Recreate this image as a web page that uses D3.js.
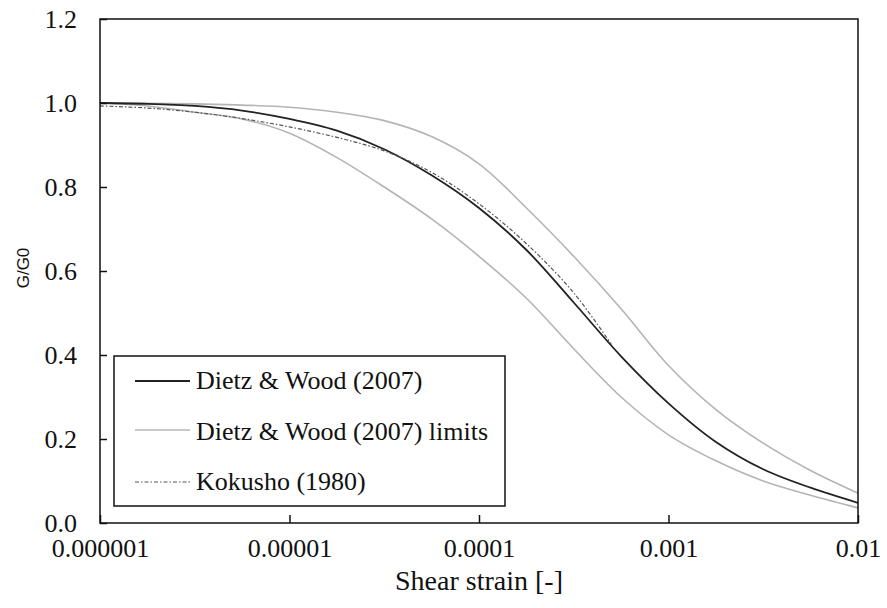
<!DOCTYPE html>
<html>
<head>
<meta charset="utf-8">
<script src="https://cdn.jsdelivr.net/npm/d3@7"></script>
<style>
  html, body { margin: 0; padding: 0; background: #fff; }
  svg { display: block; }
</style>
</head>
<body>
<svg id="chart" width="887" height="608"></svg>
<script>
// ---- data ----
const strain = [1e-6, 1.78e-6, 3.16e-6, 5.62e-6, 1e-5, 1.78e-5, 3.16e-5, 5.62e-5, 1e-4, 1.78e-4, 3.16e-4, 5.62e-4, 1e-3, 1.78e-3, 3.16e-3, 5.62e-3, 1e-2];
const dietzWood      = [1.0, 0.998, 0.993, 0.982, 0.962, 0.934, 0.89, 0.828, 0.75, 0.65, 0.525, 0.397, 0.285, 0.193, 0.128, 0.084, 0.048];
const dietzWoodUpper = [1.0, 0.9995, 0.998, 0.995, 0.99, 0.978, 0.958, 0.92, 0.855, 0.75, 0.635, 0.51, 0.375, 0.27, 0.19, 0.125, 0.071];
const dietzWoodLower = [1.0, 0.993, 0.978, 0.962, 0.928, 0.87, 0.80, 0.724, 0.635, 0.535, 0.415, 0.30, 0.21, 0.148, 0.10, 0.066, 0.036];
const kokushoStrain = [1e-6, 1.78e-6, 3.16e-6, 5.62e-6, 1e-5, 1.78e-5, 3.16e-5, 5.62e-5, 1e-4, 1.78e-4, 3.16e-4, 5e-4];
const kokusho       = [0.993, 0.988, 0.978, 0.963, 0.943, 0.918, 0.886, 0.835, 0.76, 0.665, 0.548, 0.425];

const xTicks = [1e-6, 1e-5, 1e-4, 1e-3, 1e-2];
const xTickLabels = ["0.000001", "0.00001", "0.0001", "0.001", "0.01"];
const yTicks = [0.0, 0.2, 0.4, 0.6, 0.8, 1.0, 1.2];

const legendLabels = ["Dietz & Wood (2007)", "Dietz & Wood (2007) limits", "Kokusho (1980)"];

// ---- layout ----
const L = 100, R = 858, T = 19, B = 523;
const SERIF = "Liberation Serif";
const SANS = "Liberation Sans";

const svg = d3.select("#chart");

const x = d3.scaleLog().domain([1e-6, 1e-2]).range([L, R]);
const y = d3.scaleLinear().domain([0, 1.2]).range([B, T]);

// curves
const line = d3.line()
  .x(d => x(d[0])).y(d => y(d[1]))
  .curve(d3.curveCatmullRom.alpha(0.5));

svg.append("clipPath").attr("id", "clip")
  .append("rect").attr("x", L).attr("y", T).attr("width", R - L).attr("height", B - T);

const plot = svg.append("g").attr("clip-path", "url(#clip)");

plot.append("path")
  .datum(d3.zip(strain, dietzWoodUpper))
  .attr("d", line).attr("fill", "none").attr("stroke", "#b4b4b4").attr("stroke-width", 1.6);
plot.append("path")
  .datum(d3.zip(strain, dietzWoodLower))
  .attr("d", line).attr("fill", "none").attr("stroke", "#b4b4b4").attr("stroke-width", 1.6);
plot.append("path")
  .datum(d3.zip(strain, dietzWood))
  .attr("d", line).attr("fill", "none").attr("stroke", "#222").attr("stroke-width", 1.8);
plot.append("path")
  .datum(d3.zip(kokushoStrain, kokusho))
  .attr("d", line).attr("fill", "none").attr("stroke", "#555").attr("stroke-width", 1.2)
  .attr("stroke-dasharray", "4,2,1.5,2");

// frame
svg.append("rect")
  .attr("x", L).attr("y", T).attr("width", R - L).attr("height", B - T)
  .attr("fill", "none").attr("stroke", "#111").attr("stroke-width", 1.5);

// axes
const xAxis = d3.axisBottom(x)
  .tickValues(xTicks)
  .tickFormat((d, i) => xTickLabels[i])
  .tickSizeInner(-8).tickSizeOuter(0).tickPadding(16);
const gx = svg.append("g").attr("transform", `translate(0,${B})`).call(xAxis)
  .attr("font-family", SERIF).attr("font-size", 26);
gx.select(".domain").remove();
gx.selectAll(".tick line").attr("stroke", "#111").attr("stroke-width", 1.5);
gx.selectAll("text").attr("fill", "#111");

const yAxis = d3.axisLeft(y)
  .tickValues(yTicks)
  .tickFormat(d3.format(".1f"))
  .tickSizeInner(-7).tickSizeOuter(0).tickPadding(23);
const gy = svg.append("g").attr("transform", `translate(${L},0)`).call(yAxis)
  .attr("font-family", SERIF).attr("font-size", 26);
gy.select(".domain").remove();
gy.selectAll(".tick line").attr("stroke", "#111").attr("stroke-width", 1.5);
gy.selectAll("text").attr("fill", "#111");

// titles
svg.append("text")
  .attr("x", (L + R) / 2).attr("y", 590)
  .attr("text-anchor", "middle")
  .attr("font-family", SERIF).attr("font-size", 28).attr("fill", "#111")
  .text("Shear strain [-]");

svg.append("text")
  .attr("transform", "translate(29,268) rotate(-90)")
  .attr("text-anchor", "middle")
  .attr("font-family", SANS).attr("font-size", 17).attr("fill", "#111")
  .text("G/G0");

// legend
const lg = svg.append("g");
lg.append("rect")
  .attr("x", 114).attr("y", 356).attr("width", 391).attr("height", 150)
  .attr("fill", "#fff").attr("stroke", "#111").attr("stroke-width", 1.5);

const legendStyles = [
  { stroke: "#222", width: 1.8, dash: null },
  { stroke: "#b4b4b4", width: 1.6, dash: null },
  { stroke: "#555", width: 1.2, dash: "4,2,1.5,2" }
];
const legendLineY = [381, 430, 482];
const legendTextY = [389, 440, 490];

legendLabels.forEach((lab, i) => {
  const s = legendStyles[i];
  const ln = lg.append("line")
    .attr("x1", 135).attr("x2", 190)
    .attr("y1", legendLineY[i]).attr("y2", legendLineY[i])
    .attr("stroke", s.stroke).attr("stroke-width", s.width);
  if (s.dash) ln.attr("stroke-dasharray", s.dash);
  lg.append("text")
    .attr("x", 196).attr("y", legendTextY[i])
    .attr("font-family", SERIF).attr("font-size", 26).attr("fill", "#111")
    .text(lab);
});
</script>
</body>
</html>
